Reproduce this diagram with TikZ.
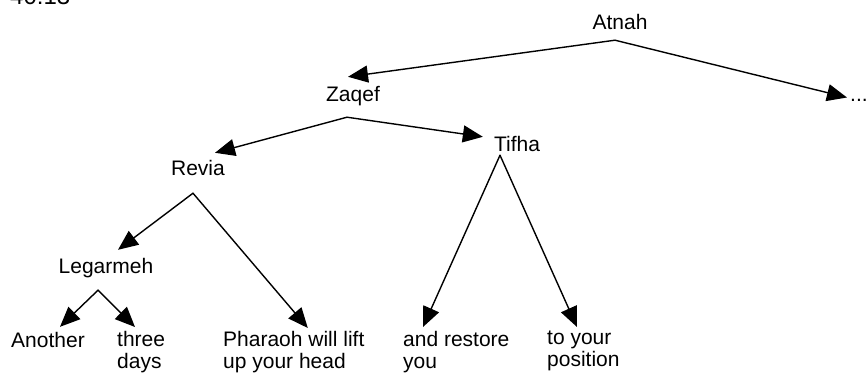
\documentclass[tikz,border=0pt]{standalone}
\usepackage{fontspec}
\setmainfont{Liberation Sans}
\usetikzlibrary{arrows.meta}
\tikzset{
    word/.style={
        font=\fontsize{21}{23}\selectfont, inner sep=2pt,
        text height=15pt, text depth=4pt
    },
    phrase/.style={
        font=\fontsize{21}{22}\selectfont, inner sep=2pt,
        align=left, anchor=north west
    },
    branch/.style={line width=1.4pt, -{Triangle[length=20pt,width=17pt]}}
}

\begin{document}
\begin{tikzpicture}[x=1pt,y=-1pt,line cap=round,line join=round]

\useasboundingbox (0,0) rectangle (866,373);

% verse reference, cut by the top edge
\node[word, font=\fontsize{24}{26}\selectfont, anchor=base west] (verse) at (8,4) {40:13};

% accents
\node[word, anchor=base] (atnah) at (620,29) {Atnah};
\node[word, anchor=base west] (dots) at (848,101) {...};
\node[word, anchor=base] (zaqef) at (353,101) {Zaqef};
\node[word, anchor=base] (revia) at (198,175) {Revia};
\node[word, anchor=base] (tifha) at (517,151) {Tifha};
\node[word, anchor=base] (legarmeh) at (106,273) {Legarmeh};

% words of the verse
\node[word, anchor=base] (another) at (48,347) {Another};
\node[phrase] (three) at (115,329) {three\\days};
\node[phrase] (pharaoh) at (221,329) {Pharaoh will lift\\up your head};
\node[phrase] (restore) at (401,329) {and restore\\you};
\node[phrase] (position) at (545,329) {to your\\position};

% points where the branches split
\coordinate (atnahfork) at ([xshift=-5pt,yshift=-5pt]atnah.south);
\coordinate (zaqeffork) at ([xshift=-6pt,yshift=-10pt]zaqef.south);
\coordinate (reviafork) at ([xshift=-5pt,yshift=-12pt]revia.south);
\coordinate (tifhafork) at ([xshift=-17pt,yshift=2pt]tifha.south);
\coordinate (legarmehfork) at ([xshift=-8pt,yshift=-11pt]legarmeh.south);

% branches
\draw[branch] (atnahfork) -- ([xshift=-5pt,yshift=7pt]zaqef.north);
\draw[branch] (atnahfork) -- ([xshift=-1pt,yshift=-2pt]dots.west);
\draw[branch] (zaqeffork) -- ([xshift=17pt,yshift=5pt]revia.north);
\draw[branch] (zaqeffork) -- ([xshift=-9pt,yshift=-3pt]tifha.north west);
\draw[branch] (reviafork) -- ([xshift=12pt,yshift=6pt]legarmeh.north);
\draw[branch] (reviafork) -- ([xshift=14pt,yshift=1pt]pharaoh.north);
\draw[branch] (tifhafork) -- ([xshift=22pt,yshift=2pt]restore.north west);
\draw[branch] (tifhafork) -- ([xshift=32pt,yshift=2pt]position.north west);
\draw[branch] (legarmehfork) -- ([xshift=12pt,yshift=3pt]another.north);
\draw[branch] (legarmehfork) -- ([xshift=20pt,yshift=2pt]three.north west);

\end{tikzpicture}
\end{document}
